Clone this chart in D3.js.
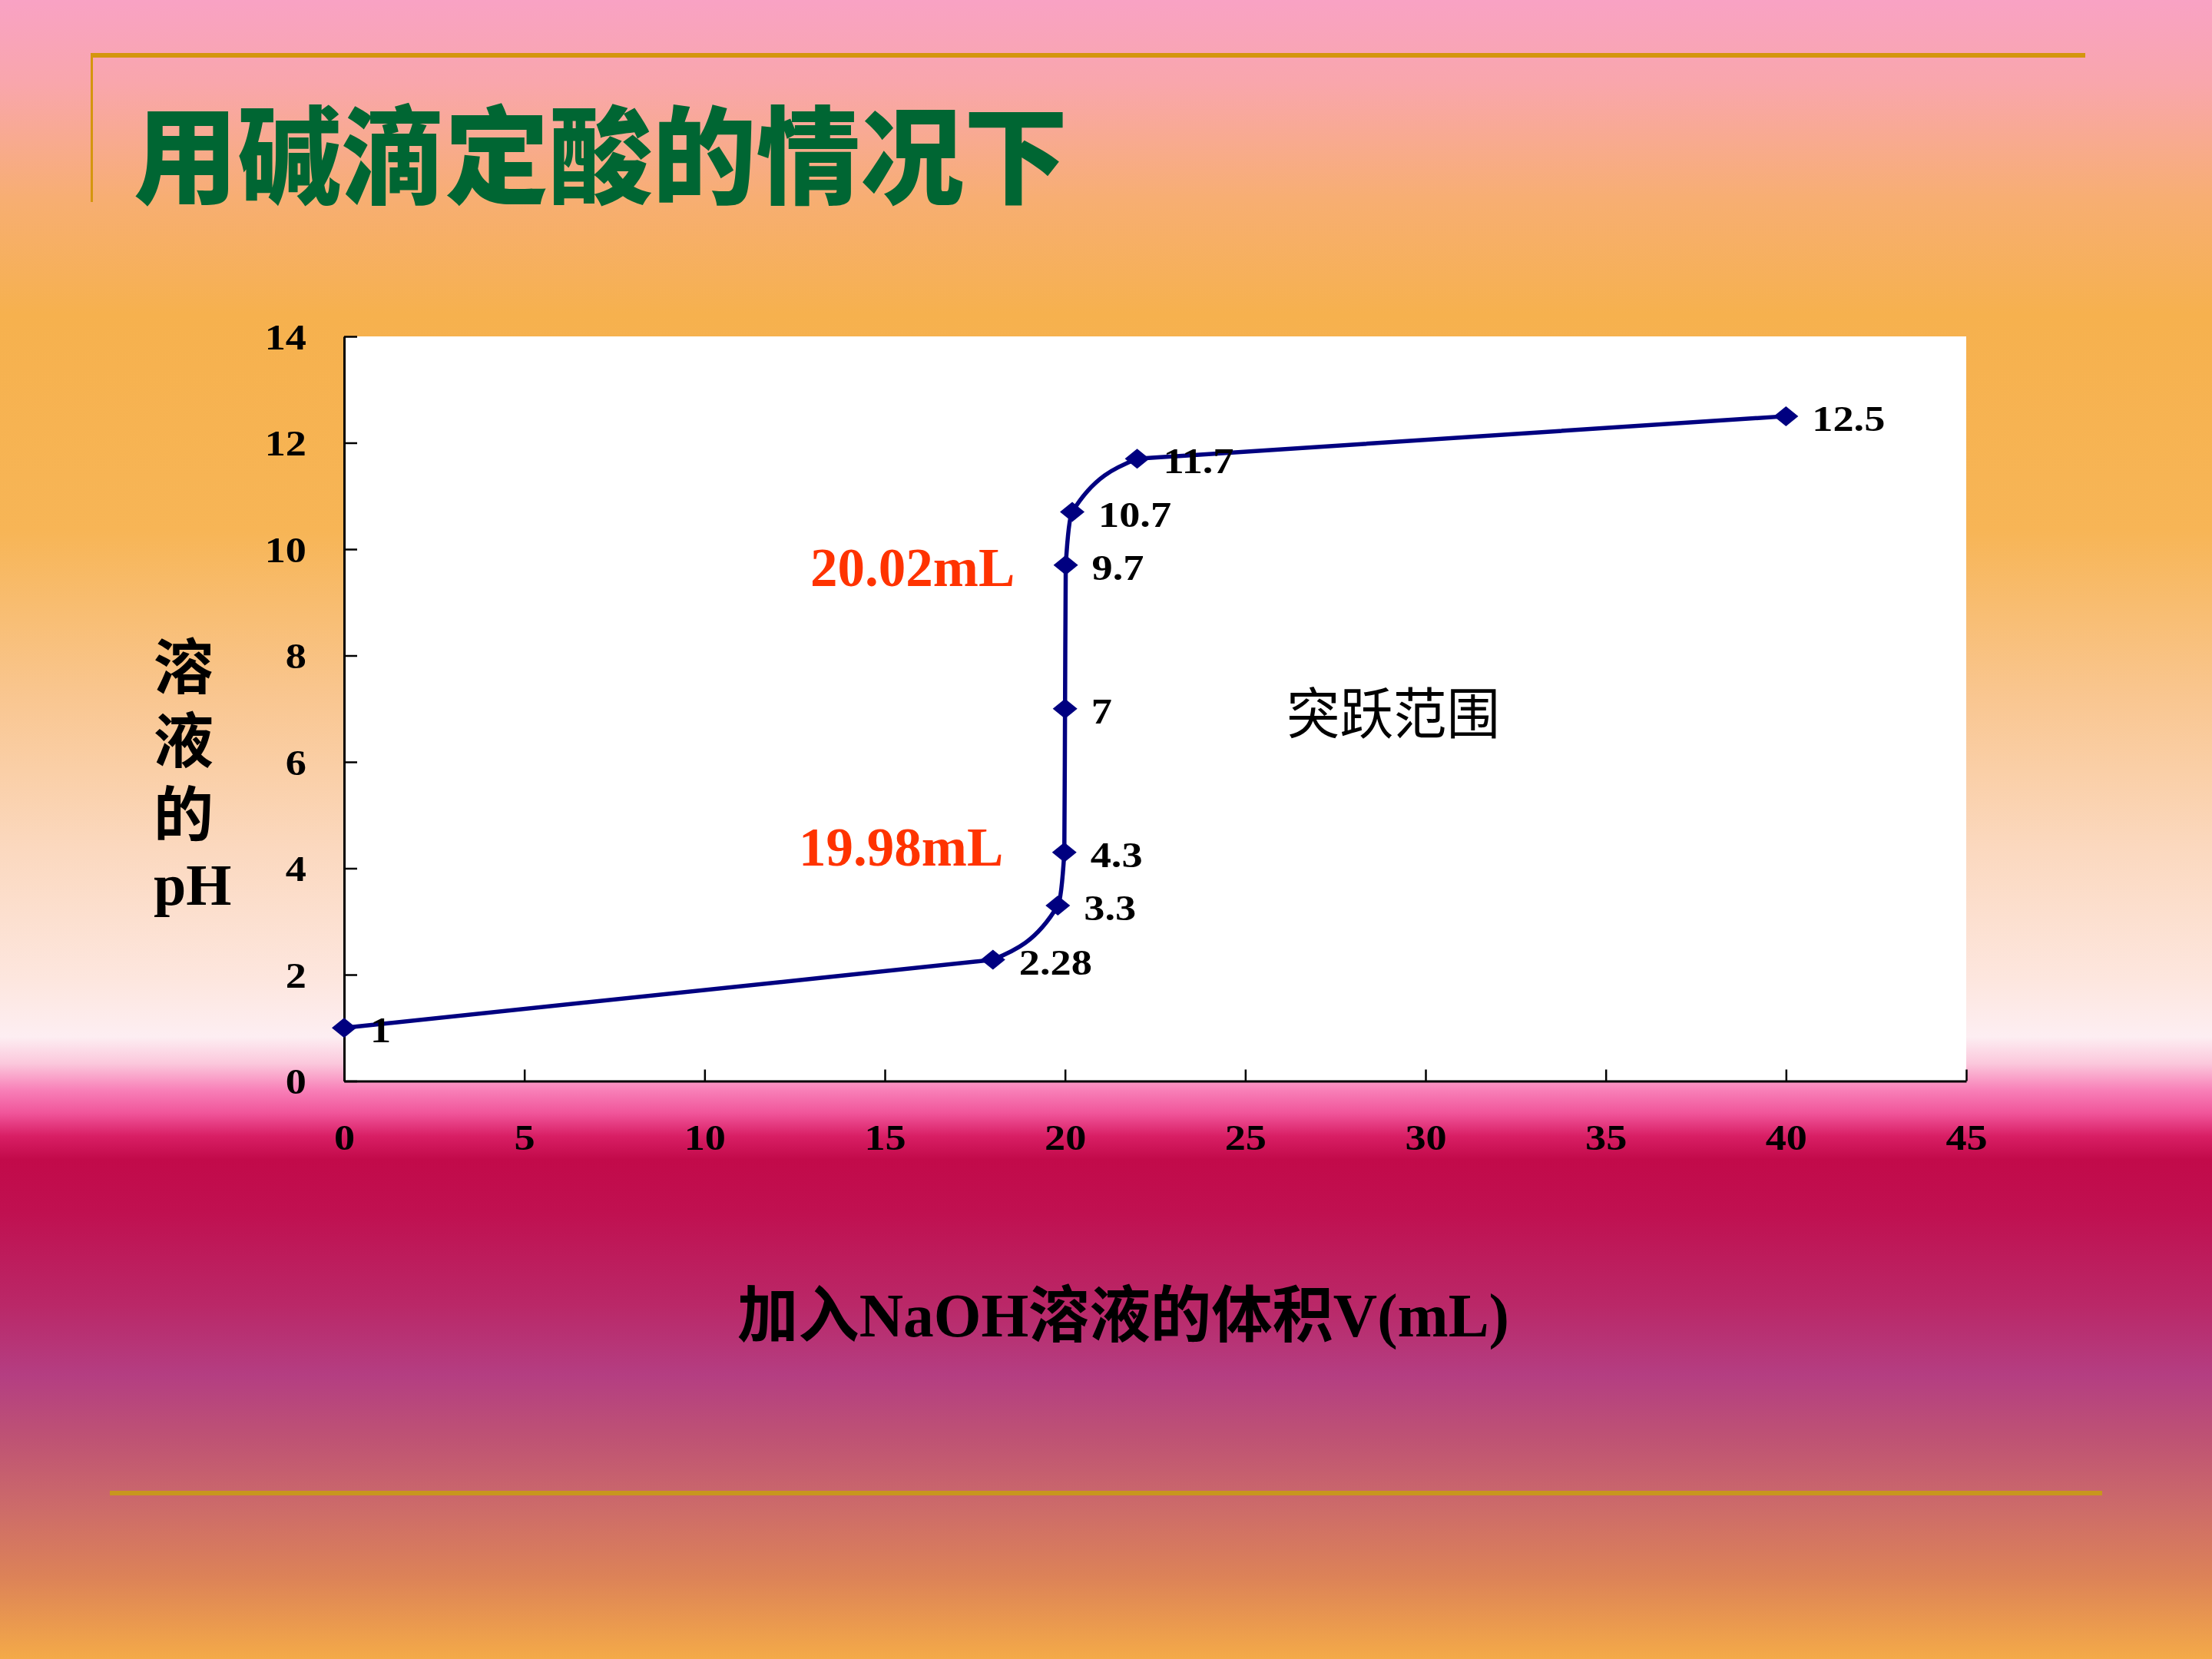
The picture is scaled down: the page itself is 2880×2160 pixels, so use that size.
<!DOCTYPE html>
<html>
<head>
<meta charset="utf-8">
<script src="https://cdn.jsdelivr.net/npm/d3@7"></script>
<style>
html,body{margin:0;padding:0;background:#fff;}
svg{display:block;}
</style>
</head>
<body>
<svg id="chart" width="2880" height="2160"></svg>
<script>
// ---- data ----
const volumes = [0, 18, 19.8, 19.98, 20, 20.02, 20.2, 22, 40];
const phValues = [1, 2.28, 3.3, 4.3, 7, 9.7, 10.7, 11.7, 12.5];
const pointLabels = ["1", "2.28", "3.3", "4.3", "7", "9.7", "10.7", "11.7", "12.5"];
const xTickValues = [0, 5, 10, 15, 20, 25, 30, 35, 40, 45];
const yTickValues = [0, 2, 4, 6, 8, 10, 12, 14];
const titleText = "用碱滴定酸的情况下";
const xAxisTitle = "加入NaOH溶液的体积V(mL)";
const yAxisTitleLines = ["溶", "液", "的", "pH"];
const annotUpper = "20.02mL";
const annotLower = "19.98mL";
const rangeText = "突跃范围";

const svg = d3.select("#chart");
const W = 2880, H = 2160;

// ---- background gradient ----
const defs = svg.append("defs");
const bg = defs.append("linearGradient").attr("id", "bg")
  .attr("x1", 0).attr("y1", 0).attr("x2", 0).attr("y2", 1);
const stops = [
  [0, "#F9A2C4"], [0.05, "#F9A6AC"], [0.12, "#F7AE72"], [0.19, "#F6B14E"],
  [0.32, "#F7B556"], [0.42, "#F9C690"], [0.51, "#FBD8BE"], [0.59, "#FDE6DE"],
  [0.625, "#FDEEF2"], [0.641, "#FBC8DC"], [0.657, "#F880B8"], [0.671, "#F0559A"],
  [0.685, "#D81E64"], [0.699, "#C20A4A"], [0.73, "#C01050"], [0.787, "#BA2868"],
  [0.829, "#B43E82"], [0.866, "#BE5274"], [0.907, "#CC6A6A"], [0.95, "#DC8258"],
  [1, "#F4AA48"]
];
stops.forEach(s => bg.append("stop").attr("offset", s[0]).attr("stop-color", s[1]));
svg.append("rect").attr("width", W).attr("height", H).attr("fill", "url(#bg)");

// ---- decorative gold lines ----
svg.append("rect").attr("x", 118).attr("y", 69).attr("width", 2597).attr("height", 6).attr("fill", "#D4960E");
svg.append("rect").attr("x", 118).attr("y", 75).attr("width", 3).attr("height", 188).attr("fill", "#D4960E");
svg.append("rect").attr("x", 143).attr("y", 1941).attr("width", 2594).attr("height", 6).attr("fill", "#C8961E");

// ---- title ----
svg.append("text").attr("x", 174).attr("y", 194)
  .attr("dominant-baseline", "central")
  .attr("font-family", "'Noto Sans CJK SC'").attr("font-weight", 900)
  .attr("font-size", 138).attr("fill", "#006633")
  .attr("textLength", 1216).attr("lengthAdjust", "spacingAndGlyphs")
  .text(titleText);

// ---- scales ----
const x = d3.scaleLinear().domain([0, 45]).range([448, 2560]);
const y = d3.scaleLinear().domain([0, 14]).range([1407.5, 438]);

// plot area
svg.append("rect").attr("x", x(0)).attr("y", y(14)).attr("width", x(45) - x(0)).attr("height", y(0) - y(14)).attr("fill", "#fff");

const labelFont = "'Liberation Serif', 'Times New Roman', serif";
const stretch = 1.18;

// y axis
const yAxis = svg.append("g").attr("transform", `translate(${x(0)},0)`)
  .call(d3.axisLeft(y).tickValues(yTickValues).tickSizeInner(-17).tickSizeOuter(0).tickPadding(0));
yAxis.select(".domain").attr("stroke", "#000").attr("stroke-width", 3);
yAxis.selectAll(".tick line").attr("stroke", "#000").attr("stroke-width", 2.5);
yAxis.selectAll(".tick text")
  .attr("x", 0).attr("dy", null).attr("y", 16)
  .attr("transform", `translate(-49,0) scale(${stretch},1)`)
  .attr("text-anchor", "end")
  .attr("font-family", labelFont).attr("font-weight", "bold")
  .attr("font-size", 46).attr("fill", "#000");

// x axis
const xAxis = svg.append("g").attr("transform", `translate(0,${y(0)})`)
  .call(d3.axisBottom(x).tickValues(xTickValues).tickSizeInner(-15).tickSizeOuter(0).tickPadding(0));
xAxis.select(".domain").attr("stroke", "#000").attr("stroke-width", 3);
xAxis.selectAll(".tick line").attr("stroke", "#000").attr("stroke-width", 2.5);
xAxis.selectAll(".tick text")
  .attr("dy", null).attr("y", 90)
  .attr("transform", `scale(${stretch},1)`)
  .attr("font-family", labelFont).attr("font-weight", "bold")
  .attr("font-size", 46).attr("fill", "#000");
svg.selectAll(".domain").attr("fill", "none");

// ---- line (straight on the long flat runs, smoothed around the jump) ----
const pts = volumes.map((v, i) => ({ v, ph: phValues[i], label: pointLabels[i] }));
const lineStraight = d3.line().x(d => x(d.v)).y(d => y(d.ph)).curve(d3.curveLinear);
const lineSmooth = d3.line().x(d => x(d.v)).y(d => y(d.ph)).curve(d3.curveMonotoneX);
const segments = [
  { data: pts.slice(0, 2), gen: lineStraight },
  { data: pts.slice(1, 8), gen: lineSmooth },
  { data: pts.slice(7, 9), gen: lineStraight }
];
svg.selectAll("path.series").data(segments).enter().append("path").attr("class", "series")
  .attr("d", s => s.gen(s.data))
  .attr("fill", "none").attr("stroke", "#000080").attr("stroke-width", 5.5)
  .attr("stroke-linejoin", "round").attr("stroke-linecap", "round");

// markers
svg.selectAll("path.mk").data(pts).enter().append("path").attr("class", "mk")
  .attr("d", "M-16,0L0,-13L16,0L0,13Z")
  .attr("transform", d => `translate(${x(d.v)},${y(d.ph)})`)
  .attr("fill", "#000080");

// data labels
svg.selectAll("text.dl").data(pts).enter().append("text").attr("class", "dl")
  .attr("transform", d => `translate(${x(d.v) + 34},${y(d.ph) + 19}) scale(${stretch},1)`)
  .attr("font-family", labelFont).attr("font-weight", "bold")
  .attr("font-size", 46).attr("fill", "#000")
  .text(d => d.label);

// ---- annotations ----
svg.append("text").attr("x", 1055).attr("y", 763)
  .attr("font-family", labelFont).attr("font-weight", "bold").attr("font-size", 71)
  .attr("fill", "#FF3300").text(annotUpper);
svg.append("text").attr("x", 1040).attr("y", 1127)
  .attr("font-family", labelFont).attr("font-weight", "bold").attr("font-size", 71)
  .attr("fill", "#FF3300").text(annotLower);
svg.append("text").attr("x", 1675).attr("y", 923)
  .attr("dominant-baseline", "central")
  .attr("font-family", "'Noto Sans CJK SC'").attr("font-size", 72).attr("fill", "#000")
  .attr("textLength", 278).attr("lengthAdjust", "spacingAndGlyphs")
  .text(rangeText);

// ---- axis titles ----
const yBaselines = [897, 993, 1089, 1178];
const yTitle = svg.append("text")
  .attr("font-family", "'Liberation Serif', 'Noto Sans CJK SC', serif").attr("font-weight", "bold")
  .attr("fill", "#000");
yAxisTitleLines.forEach((c, i) => {
  yTitle.append("tspan").attr("x", 200).attr("y", yBaselines[i])
    .attr("font-size", i < 3 ? 78 : 76).text(c);
});

svg.append("text").attr("x", 960).attr("y", 1740)
  .attr("font-family", "'Liberation Serif', 'Noto Sans CJK SC', serif").attr("font-weight", "bold")
  .attr("font-size", 80).attr("fill", "#000")
  .attr("textLength", 1005).attr("lengthAdjust", "spacingAndGlyphs")
  .text(xAxisTitle);
</script>
</body>
</html>
